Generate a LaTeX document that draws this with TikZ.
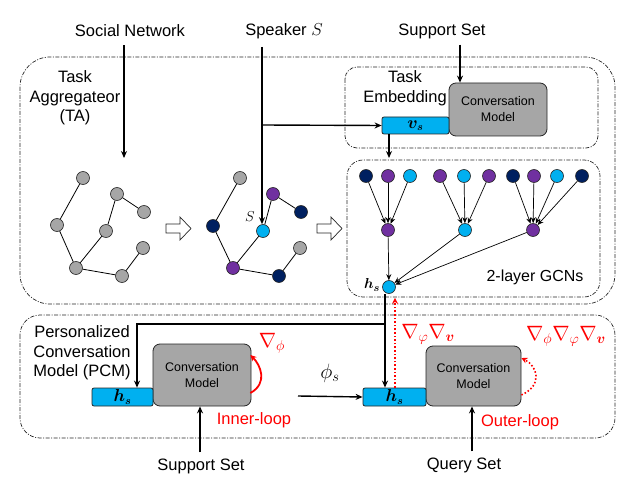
\documentclass[tikz,border=0pt]{standalone}
\usepackage{fontspec}
\setmainfont{Liberation Sans}
\usepackage{amsmath,bm}
\usetikzlibrary{arrows.meta,calc}
\definecolor{cyanc}{HTML}{00B0F0}
\definecolor{purp}{HTML}{7030A0}
\definecolor{navyc}{HTML}{002060}
\definecolor{grayn}{HTML}{A6A6A6}
\definecolor{redc}{HTML}{FF0000}
\tikzset{
  dd/.style={draw=black!85, line width=0.7pt, dash pattern=on 4pt off 1.5pt on 1pt off 1.5pt},
  gn/.style={circle, draw=black!85, line width=0.6pt, minimum size=13pt, inner sep=0pt, fill=grayn},
  gc/.style={gn, fill=cyanc},
  gp/.style={gn, fill=purp},
  gv/.style={gn, fill=navyc},
  cmbox/.style={draw=black!85, fill=grayn, rounded corners=7pt, line width=0.8pt, align=center,
     font=\fontsize{12.5}{16}\selectfont, inner sep=0pt},
  vbox/.style={draw=black!85, fill=cyanc, rounded corners=2pt, line width=0.8pt, inner sep=0pt,
     font=\fontsize{16}{16}\selectfont},
  lbl/.style={font=\fontsize{16.5}{19.5}\selectfont, align=center, inner sep=0pt},
  rlbl/.style={lbl, text=redc},
  arr/.style={-{Stealth[length=7pt,width=6pt]}, line width=1.4pt},
  garr/.style={-{Stealth[length=6pt,width=5pt]}, line width=0.7pt},
  ged/.style={line width=0.8pt},
  hollow/.style={draw=black!85, line width=0.7pt, fill=white},
}
\begin{document}
\begin{tikzpicture}[x=1pt,y=-1pt]
\useasboundingbox (0,0) rectangle (640,484);

% containers
\draw[dd, rounded corners=30pt] (20,57) rectangle (615,304);
\draw[dd, rounded corners=12pt] (345,67) rectangle (598,148);
\draw[dd, rounded corners=16pt] (347,160) rectangle (600,297);
\draw[dd, rounded corners=20pt] (20,315) rectangle (615,438);

% top labels
\node[lbl] (sn) at (130,31) {Social Network};
\node[lbl] (sp) at (284,31) {Speaker $S$};
\node[lbl] (ss) at (442,31) {Support Set};
\node[lbl] (ta) at (75,98) {Task\\Aggregateor\\(TA)};
\node[lbl] (te) at (405,88) {Task\\Embedding};

% task embedding boxes
\node[cmbox, minimum width=98pt, minimum height=53pt] (cm1) at (498,109.5) {Conversation\\Model};
\node[vbox, minimum width=67pt, minimum height=17pt] (vs) at (415.5,125.5) {$\bm{v_s}$};

% left graph
\node[gn] (a1) at (83,178) {};
\node[gn] (b1) at (117,194) {};
\node[gn] (c1) at (144,212) {};
\node[gn] (d1) at (57,225) {};
\node[gn] (e1) at (106,231) {};
\node[gn] (f1) at (143,248) {};
\node[gn] (g1) at (76,268) {};
\node[gn] (h1) at (122,276) {};
\draw[ged] (a1)--(d1) (d1)--(g1) (g1)--(e1) (e1)--(b1) (b1)--(c1) (g1)--(h1) (h1)--(f1);

% middle graph
\node[gn] (a2) at (240,178) {};
\node[gp] (b2) at (273,194) {};
\node[gv] (c2) at (301,212) {};
\node[gv] (d2) at (213,226) {};
\node[gc] (e2) at (263,231) {};
\node[gn] (f2) at (300,248) {};
\node[gp] (g2) at (233,268) {};
\node[gv] (h2) at (279,276) {};
\draw[ged] (a2)--(d2) (d2)--(g2) (g2)--(e2) (e2)--(b2) (b2)--(c2) (g2)--(h2) (h2)--(f2);
\node[font=\fontsize{14}{14}\selectfont, inner sep=0pt] (slab) at (250,217) {$S$};

% hollow arrows
\draw[hollow] (166,224) -- (180,224) -- (180,217) -- (191,228.5) -- (180,240) -- (180,233) -- (166,233) -- cycle;
\draw[hollow] (317,224) -- (331,224) -- (331,217) -- (342,228.5) -- (331,240) -- (331,233) -- (317,233) -- cycle;

% GCN
\node[gv] (t1) at (366,176) {};
\node[gp] (t2) at (388,176) {};
\node[gc] (t3) at (410,176) {};
\node[gp] (t4) at (440,176) {};
\node[gc] (t5) at (464,176) {};
\node[gp] (t6) at (489,176) {};
\node[gv] (t7) at (513,176) {};
\node[gp] (t8) at (534,176) {};
\node[gc] (t9) at (557,176) {};
\node[gv] (t10) at (582,176) {};
\node[gp] (m1) at (388,230) {};
\node[gc] (m2) at (465,230) {};
\node[gp] (m3) at (533,230) {};
\node[gc] (hg) at (389,287) {};
\foreach \t in {t1,t2,t3} \draw[garr] (\t) -- (m1);
\foreach \t in {t4,t5,t6} \draw[garr] (\t) -- (m2);
\foreach \t in {t7,t8,t9,t10} \draw[garr] (\t) -- (m3);
\foreach \m in {m1,m2,m3} \draw[garr] (\m) -- (hg);
\node[font=\fontsize{15}{15}\selectfont, inner sep=0pt] (hglab) at (372,285) {$\bm{h_s}$};
\node[lbl, font=\fontsize{16}{16}\selectfont] (gcn) at (535,277) {2-layer GCNs};

% PCM
\node[lbl] (pcm) at (82,353) {Personalized\\Conversation\\Model (PCM)};
\node[cmbox, minimum width=98pt, minimum height=62pt] (cm2) at (202,375) {Conversation\\Model};
\node[vbox, minimum width=61pt, minimum height=18pt] (hs1) at (122.5,397) {$\bm{h_s}$};
\node[cmbox, minimum width=95pt, minimum height=60pt] (cm3) at (473.5,376) {Conversation\\Model};
\node[vbox, minimum width=63pt, minimum height=18pt] (hs2) at (394.5,397) {$\bm{h_s}$};

\node[lbl] (sb) at (201,466) {Support Set};
\node[lbl] (qs) at (464,465) {Query Set};
\node[rlbl] (inl) at (254,420) {Inner-loop};
\node[rlbl] (outl) at (520,422) {Outer-loop};
\node[text=redc, inner sep=0pt, font=\fontsize{21}{21}\selectfont] (gphi) at (272,343) {$\nabla_{\phi}$};
\node[text=redc, inner sep=0pt, font=\fontsize{21}{21}\selectfont] (gmid) at (428,334) {$\nabla_{\varphi}\nabla_{\bm{v}}$};
\node[text=redc, inner sep=0pt, font=\fontsize{21}{21}\selectfont] (gright) at (566,336) {$\nabla_{\phi}\nabla_{\varphi}\nabla_{\bm{v}}$};
\node[inner sep=0pt, font=\fontsize{20}{20}\selectfont] (phis) at (330,373) {$\phi_s$};

% coordinates
\coordinate (snend) at (124,158);
\coordinate (spx) at (262,0);
\coordinate (spj) at (262,125);
\coordinate (ssx) at (460,0);
\coordinate (vsd) at (389,158);
\coordinate (hgb) at (385,294);
\coordinate (hj) at (385,324);
\coordinate (hl) at (137,324);
\coordinate (rx) at (395,0);
\coordinate (phst) at (298,396);
\coordinate (sbx) at (200,0);
\coordinate (qsx) at (472,0);

% arrows
\draw[arr] (sn.south -| snend) ++(0,8) -- (snend);
\draw[arr] ($(sp.south -| spx)+(0,8)$) -- (e2.north -| spx);
\draw[arr] (spj) -- (vs.west);
\draw[arr] ($(ss.south -| ssx)+(0,6)$) -- (cm1.north -| ssx);
\draw[arr] (vs.south -| vsd) -- (vsd);
\draw[line width=1.4pt] (hgb) -- (hj);
\draw[arr] (hj) -- (hs2.north -| hj);
\draw[arr] (hj) -- (hl) -- (hs1.north -| hl);
\draw[redc, line width=1.6pt, dotted, -{Stealth[length=6pt,width=6pt]}] (hs2.north -| rx) -- ($(hg.south -| rx)+(0,4)$);
\draw[arr] (phst) -- (hs2.west);
\draw[arr] ($(sb.north -| sbx)+(0,-6)$) -- (cm2.south -| sbx);
\draw[arr] ($(qs.north -| qsx)+(0,-6)$) -- (cm3.south -| qsx);

% loops
\draw[redc, line width=1.8pt, -{Stealth[length=6pt,width=6pt]}] ($(cm2.east)+(-1,18)$) .. controls +(18,-10) and +(10,10) .. ($(cm2.east)+(-1,-20)$);
\draw[redc, line width=1.6pt, dotted, -{Stealth[length=6pt,width=6pt]}] ($(cm3.east)+(0,19)$) .. controls +(22,-10) and +(16,8) .. ($(cm3.east)+(0,-18)$);
\end{tikzpicture}
\end{document}
